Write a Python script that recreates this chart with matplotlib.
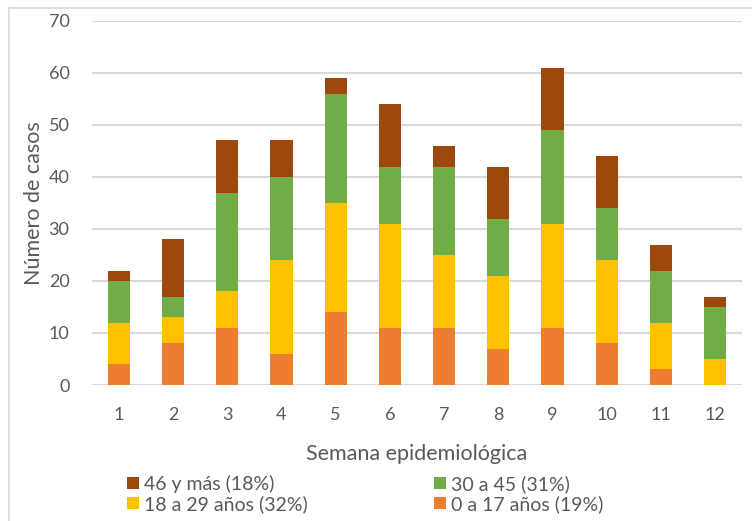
import numpy as np
import matplotlib.pyplot as plt

plt.rcParams['font.family'] = ['Lato', 'DejaVu Sans']

semanas = ['1', '2', '3', '4', '5', '6', '7', '8', '9', '10', '11', '12']
edad_0_17 = [4, 8, 11, 6, 14, 11, 11, 7, 11, 8, 3, 0]
edad_18_29 = [8, 5, 7, 18, 21, 20, 14, 14, 20, 16, 9, 5]
edad_30_45 = [8, 4, 19, 16, 21, 11, 17, 11, 18, 10, 10, 10]
edad_46_mas = [2, 11, 10, 7, 3, 12, 4, 10, 12, 10, 5, 2]

etiquetas = ['0 a 17 años (19%)', '18 a 29 años (32%)', '30 a 45 (31%)', '46 y más (18%)']
colores = ['#ED7D31', '#FFC000', '#70AD47', '#9E480E']
texto = '#595959'

fig = plt.figure(figsize=(7.52, 5.21), dpi=100)
ax = fig.add_axes([0.122, 0.261, 0.865, 0.699])

x = np.arange(len(semanas))
series = [edad_0_17, edad_18_29, edad_30_45, edad_46_mas]
base = np.zeros(len(semanas))
barras = []
for vals, col, lab in zip(series, colores, etiquetas):
    b = ax.bar(x, vals, width=0.41, bottom=base, color=col, label=lab, zorder=3)
    barras.append(b)
    base += np.array(vals)

ax.set_xlim(-0.5, len(semanas) - 0.5)
ax.set_ylim(0, 70)
ax.set_yticks(range(0, 71, 10))
ax.set_xticks(x)
ax.set_xticklabels(semanas)
ax.grid(axis='y', color='#D9D9D9', linewidth=1.5, zorder=0)
for s in ax.spines.values():
    s.set_visible(False)
ax.tick_params(length=0, labelsize=13, colors=texto)
ax.tick_params(axis='x', pad=16)
ax.tick_params(axis='y', pad=16)

ax.set_xlabel('Semana epidemiológica', fontsize=15.5, color=texto, labelpad=15)
ax.set_ylabel('Número de casos', fontsize=15.5, color=texto, labelpad=3)

# orden por columnas: [46 y más, 18 a 29] | [30 a 45, 0 a 17]
handles = [barras[3], barras[1], barras[2], barras[0]]
labels = [etiquetas[3], etiquetas[1], etiquetas[2], etiquetas[0]]
leg = fig.legend(handles, labels, ncol=2, loc='upper left', bbox_to_anchor=(0.156, 0.1075),
                 frameon=False, fontsize=14, handlelength=0.62, handleheight=0.62,
                 handletextpad=0.25, columnspacing=6.5, labelspacing=0.12, borderpad=0)
for t in leg.get_texts():
    t.set_color(texto)

# borde del gráfico
fig.add_artist(plt.Line2D([0.0125, 0.0125], [0, 0.985], color='#D9D9D9', linewidth=1.2))
fig.add_artist(plt.Line2D([0.0125, 1], [0.985, 0.985], color='#D9D9D9', linewidth=1.2))

fig.savefig('out.png', dpi=100)
